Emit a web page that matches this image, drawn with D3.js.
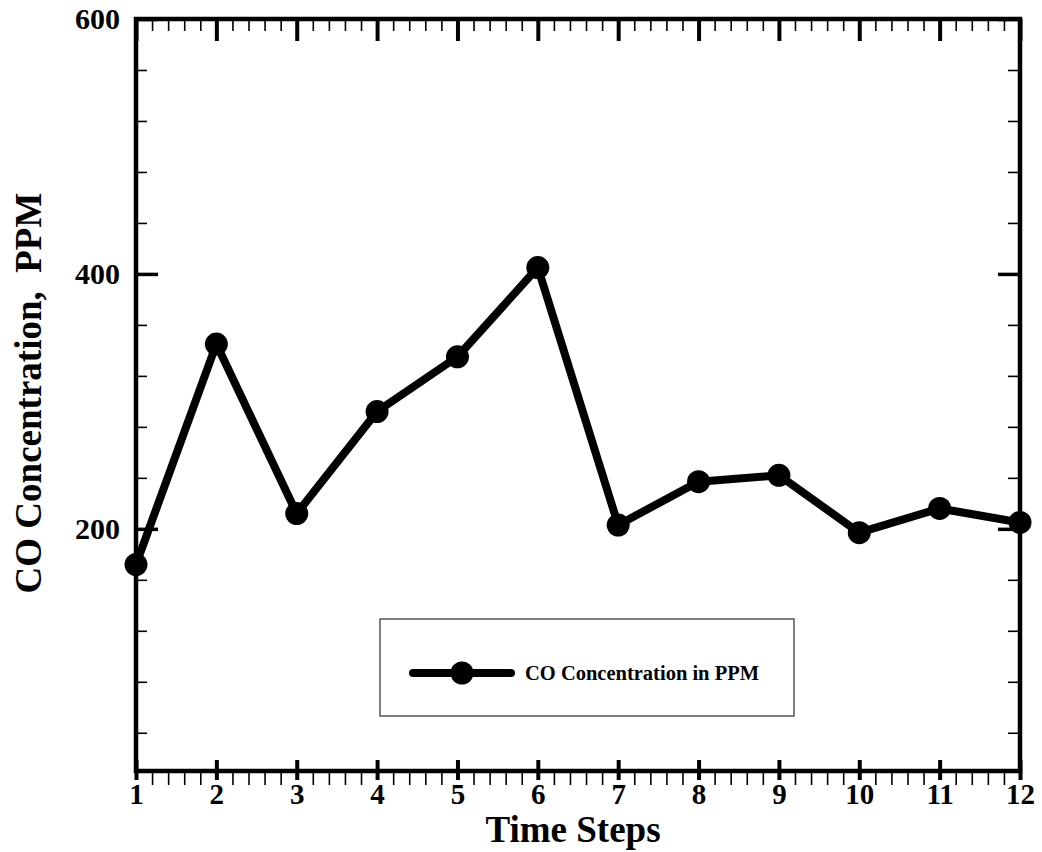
<!DOCTYPE html>
<html>
<head>
<meta charset="utf-8">
<script src="https://cdn.jsdelivr.net/npm/d3@7"></script>
<style>
  body { margin: 0; background: #fff; }
  svg { display: block; font-family: "Liberation Serif", "Times New Roman", serif; font-weight: bold; }
</style>
</head>
<body>
<svg id="chart"></svg>
<script>
// data
const timeSteps = [1, 2, 3, 4, 5, 6, 7, 8, 9, 10, 11, 12];
const coPPM = [172, 345, 212, 292, 335, 405, 203, 237, 242, 197, 216, 205];
const yMajorTicks = [200, 400, 600];
const yMinorTicks = [40, 80, 120, 160, 240, 280, 320, 360, 440, 480, 520, 560];
const xMinorTicks = d3.range(1, 12).flatMap(i => [0.2, 0.4, 0.6, 0.8].map(f => i + f));
const seriesName = "CO Concentration in PPM";

const width = 1042;
const height = 852;
const plotLeft = 136, plotRight = 1020, plotTop = 19, plotBottom = 771;

const svg = d3.select("#chart")
  .attr("width", width)
  .attr("height", height);

// scales
const x = d3.scaleLinear().domain([1, 12]).range([plotLeft, plotRight]);
const y = d3.scaleLinear().domain([10, 600]).range([plotBottom, plotTop]);

// helper to draw a tick-only axis
function ticks(axis, tx, ty, w) {
  const g = svg.append("g")
    .attr("transform", `translate(${tx},${ty})`)
    .call(axis);
  g.select(".domain").remove();
  g.selectAll("text").remove();
  g.selectAll("line").attr("stroke", "#000").attr("stroke-width", w);
  return g;
}

// bottom axis ticks
ticks(d3.axisBottom(x).tickValues(xMinorTicks).tickSize(14), 0, plotBottom, 1.6);
ticks(d3.axisBottom(x).tickValues(timeSteps).tickSize(9), 0, plotBottom, 4)
  .selectAll("line").attr("y1", -11);
// top axis ticks
ticks(d3.axisTop(x).tickValues(xMinorTicks).tickSize(-12), 0, plotTop, 1.6);
ticks(d3.axisTop(x).tickValues(timeSteps).tickSize(-22), 0, plotTop, 4);
// left axis ticks
ticks(d3.axisLeft(y).tickValues(yMinorTicks).tickSize(-11), plotLeft, 0, 1.6);
ticks(d3.axisLeft(y).tickValues(yMajorTicks).tickSize(-22), plotLeft, 0, 3.5);
// right axis ticks
ticks(d3.axisRight(y).tickValues(yMinorTicks).tickSize(-12), plotRight, 0, 1.6);
ticks(d3.axisRight(y).tickValues(yMajorTicks).tickSize(-22), plotRight, 0, 3.5);

// frame
svg.append("rect")
  .attr("x", plotLeft)
  .attr("y", plotTop)
  .attr("width", plotRight - plotLeft)
  .attr("height", plotBottom - plotTop)
  .attr("fill", "none")
  .attr("stroke", "#000")
  .attr("stroke-width", 4.5);

// tick labels
const xLab = svg.append("g")
  .attr("transform", `translate(0,${plotBottom})`)
  .call(d3.axisBottom(x).tickValues(timeSteps).tickSize(0).tickPadding(12).tickFormat(d3.format("d")));
xLab.select(".domain").remove();
xLab.selectAll("text")
  .attr("fill", "#000")
  .style("font-family", "Liberation Serif")
  .style("font-weight", "bold")
  .style("font-size", "29px");

const yLab = svg.append("g")
  .attr("transform", `translate(${plotLeft},0)`)
  .call(d3.axisLeft(y).tickValues(yMajorTicks).tickSize(0).tickPadding(16));
yLab.select(".domain").remove();
yLab.selectAll("text")
  .attr("fill", "#000")
  .style("font-family", "Liberation Serif")
  .style("font-weight", "bold")
  .style("font-size", "30px");

// axis titles
svg.append("text")
  .attr("x", 573)
  .attr("y", 842)
  .attr("text-anchor", "middle")
  .style("font-size", "37px")
  .text("Time Steps");

svg.append("text")
  .attr("transform", "translate(41,393) rotate(-90)")
  .attr("text-anchor", "middle")
  .style("font-size", "37px")
  .style("white-space", "pre")
  .text("CO Concentration,  PPM");

// series line
const line = d3.line()
  .x((d, i) => x(timeSteps[i]))
  .y(d => y(d));

svg.append("path")
  .datum(coPPM)
  .attr("fill", "none")
  .attr("stroke", "#000")
  .attr("stroke-width", 8)
  .attr("stroke-linejoin", "round")
  .attr("d", line);

svg.selectAll("circle.pt")
  .data(coPPM)
  .enter()
  .append("circle")
  .attr("class", "pt")
  .attr("cx", (d, i) => x(timeSteps[i]))
  .attr("cy", d => y(d))
  .attr("r", 11.5)
  .attr("fill", "#000");

// legend
const legend = svg.append("g").attr("transform", "translate(380,619)");
legend.append("rect")
  .attr("width", 414)
  .attr("height", 97)
  .attr("fill", "#fff")
  .attr("stroke", "#555")
  .attr("stroke-width", 1.5);
legend.append("line")
  .attr("x1", 33).attr("x2", 131)
  .attr("y1", 54).attr("y2", 54)
  .attr("stroke", "#000")
  .attr("stroke-width", 8)
  .attr("stroke-linecap", "round");
legend.append("circle")
  .attr("cx", 82).attr("cy", 54)
  .attr("r", 11.5)
  .attr("fill", "#000");
legend.append("text")
  .attr("x", 145)
  .attr("y", 61)
  .style("font-size", "20.5px")
  .text(seriesName);
</script>
</body>
</html>
